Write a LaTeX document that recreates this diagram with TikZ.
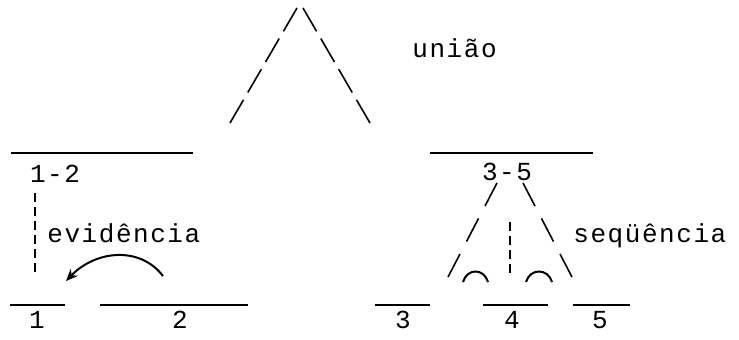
\documentclass[tikz,border=0pt]{standalone}
\usepackage{fontspec}
\setmonofont[LetterSpace=6]{Liberation Mono}
\usetikzlibrary{arrows.meta}
\begin{document}
\begin{tikzpicture}[x=0.5pt,y=-0.5pt,
  lbl/.style={font=\ttfamily\fontsize{13}{15}\selectfont,inner sep=0pt},
  bar/.style={line width=0.8pt},
  topdash/.style={line width=0.8pt,dash pattern=on 13.5pt off 4.2pt},
  longdash/.style={line width=0.8pt,dash pattern=on 13pt off 7pt},
  shortdash/.style={line width=0.8pt,dash pattern=on 4.5pt off 2.5pt}]
  \useasboundingbox (0,0) rectangle (739,339);
  % top: union
  \coordinate (apexL) at (297,8); \coordinate (apexR) at (303,8);
  \coordinate (footL) at (230,123); \coordinate (footR) at (370,123);
  \draw[topdash] (apexL)--(footL);
  \draw[topdash] (apexR)--(footR);
  \node[lbl,anchor=base west] (uniao) at (412,57) {união};
  % left group 1-2
  \draw[bar] (11,153)--(193,153);
  \node[lbl,anchor=base] (n12) at (55,182) {1-2};
  \coordinate (evT) at (35,193); \coordinate (evB) at (35,277);
  \draw[shortdash] (evT)--(evB);
  \node[lbl,anchor=base west] (evid) at (47,242) {evidência};
  \coordinate (arrS) at (163,276); \coordinate (arrE) at (66,281);
  \draw[line width=1pt,-{Stealth[length=6pt,width=5pt]}]
    (arrS) .. controls (140,246) and (96,250) .. (arrE);
  \draw[bar] (10,305)--(65,305);
  \draw[bar] (100,305)--(248,305);
  \node[lbl,anchor=base] (n1) at (37,328) {1};
  \node[lbl,anchor=base] (n2) at (180,328) {2};
  % right group 3-5
  \draw[bar] (430,153)--(593,153);
  \node[lbl,anchor=base] (n35) at (507,180) {3-5};
  \coordinate (seqTL) at (497,183); \coordinate (seqBL) at (448,277);
  \coordinate (seqTR) at (523,183); \coordinate (seqBR) at (572,277);
  \draw[longdash] (seqTL)--(seqBL);
  \draw[longdash] (seqTR)--(seqBR);
  \draw[shortdash] (510,222)--(510,277);
  \draw[line width=1pt] (463,282) .. controls (467,268) and (484,268) .. (488,282);
  \draw[line width=1pt] (526,282) .. controls (530,268) and (548,268) .. (552,282);
  \node[lbl,anchor=base west] (seq) at (573,242) {seqüência};
  \draw[bar] (375,305)--(430,305);
  \draw[bar] (483,305)--(548,305);
  \draw[bar] (573,305)--(630,305);
  \node[lbl,anchor=base] (n3) at (403,328) {3};
  \node[lbl,anchor=base] (n4) at (512,328) {4};
  \node[lbl,anchor=base] (n5) at (600,328) {5};
\end{tikzpicture}
\end{document}
